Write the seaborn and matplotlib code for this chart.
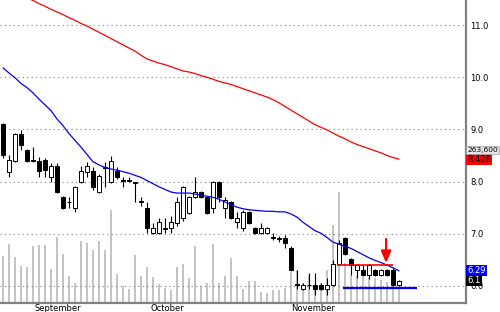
import numpy as np
import matplotlib
matplotlib.use("Agg")
import matplotlib.pyplot as plt
import seaborn as sns

# ---------------- data ----------------
opens = [9.10, 8.18, 8.39, 8.91, 8.61, 8.41, 8.39, 8.41, 8.09, 8.30,
         7.70, 7.61, 7.49, 7.99, 8.18, 8.20, 7.80, 8.27, 7.99, 8.20,
         8.03, 8.03, 8.00, 7.62, 7.49, 7.02, 7.02, 7.11, 7.11, 7.21,
         7.30, 7.40, 7.70, 7.80, 7.70, 7.49, 7.99, 7.49, 7.61, 7.23,
         7.11, 7.42, 7.11, 7.02, 7.02, 6.93, 6.91, 6.92, 6.73, 6.03,
         5.94, 6.02, 6.02, 6.02, 5.94, 6.02, 6.42, 6.92, 6.52, 6.31,
         6.31, 6.21, 6.31, 6.21, 6.31, 6.31, 6.02]
highs = [9.12, 8.51, 8.93, 8.99, 8.63, 8.66, 8.47, 8.45, 8.36, 8.35,
         7.72, 7.70, 7.92, 8.30, 8.38, 8.28, 8.14, 8.38, 8.49, 8.28,
         8.09, 8.09, 8.00, 7.70, 7.61, 7.21, 7.30, 7.30, 7.35, 7.70,
         7.92, 7.72, 8.09, 7.82, 7.72, 8.01, 8.01, 7.70, 7.63, 7.42,
         7.45, 7.44, 7.13, 7.21, 7.13, 7.02, 6.95, 6.98, 6.76, 6.31,
         6.05, 6.25, 6.25, 6.05, 6.15, 6.50, 6.88, 6.94, 6.54, 6.42,
         6.40, 6.42, 6.33, 6.33, 6.33, 6.35, 6.12]
lows = [8.45, 8.09, 8.37, 8.61, 8.37, 8.38, 8.09, 8.09, 7.99, 7.78,
        7.47, 7.50, 7.42, 7.97, 8.09, 7.84, 7.78, 7.90, 7.97, 8.05,
        7.90, 8.00, 7.61, 7.53, 7.02, 7.00, 7.00, 7.02, 7.02, 7.15,
        7.25, 7.38, 7.68, 7.68, 7.38, 7.40, 7.61, 7.30, 7.28, 7.11,
        7.05, 7.19, 7.00, 7.00, 7.00, 6.88, 6.85, 6.73, 6.29, 5.94,
        5.92, 5.94, 5.83, 5.92, 5.83, 6.00, 6.40, 6.59, 6.21, 6.15,
        6.19, 6.13, 6.19, 6.19, 6.19, 6.00, 6.00]
closes = [8.51, 8.41, 8.91, 8.70, 8.39, 8.40, 8.20, 8.22, 8.30, 7.80,
          7.49, 7.60, 7.90, 8.20, 8.30, 7.90, 8.11, 8.26, 8.39, 8.09,
          8.02, 8.02, 7.98, 7.60, 7.11, 7.11, 7.23, 7.10, 7.23, 7.61,
          7.90, 7.70, 7.80, 7.70, 7.40, 7.99, 7.70, 7.65, 7.30, 7.30,
          7.42, 7.21, 7.02, 7.11, 7.11, 6.92, 6.90, 6.82, 6.31, 6.02,
          6.02, 6.01, 5.94, 5.94, 6.02, 6.42, 6.82, 6.61, 6.40, 6.40,
          6.21, 6.40, 6.21, 6.31, 6.21, 6.02, 6.10]
volume_k = [619, 778, 606, 488, 474, 751, 764, 764, 448, 870,
            646, 356, 264, 817, 791, 699, 817, 699, 1226, 382,
            224, 185, 633, 356, 474, 343, 250, 198, 171, 474,
            514, 330, 751, 224, 264, 778, 264, 356, 593, 356,
            185, 290, 290, 145, 132, 171, 171, 198, 409, 435,
            264, 369, 237, 264, 435, 1028, 1463, 527, 369, 369,
            343, 330, 330, 303, 277, 330, 263.6]
ma_fast = [10.18, 10.08, 9.99, 9.88, 9.80, 9.70, 9.58, 9.47, 9.36, 9.20,
           9.07, 8.92, 8.79, 8.66, 8.52, 8.38, 8.32, 8.27, 8.24, 8.22,
           8.19, 8.16, 8.12, 8.08, 8.02, 7.96, 7.90, 7.85, 7.80, 7.78,
           7.78, 7.78, 7.76, 7.74, 7.72, 7.70, 7.66, 7.61, 7.56, 7.51,
           7.48, 7.46, 7.45, 7.44, 7.43, 7.43, 7.42, 7.42, 7.38, 7.32,
           7.22, 7.14, 7.06, 7.01, 6.93, 6.84, 6.80, 6.76, 6.72, 6.66,
           6.60, 6.54, 6.49, 6.45, 6.40, 6.35, 6.29]
ma_slow = [11.74, 11.69, 11.63, 11.58, 11.52, 11.47, 11.41, 11.36, 11.30, 11.25,
           11.20, 11.14, 11.09, 11.03, 10.98, 10.92, 10.86, 10.80, 10.74, 10.68,
           10.62, 10.56, 10.50, 10.42, 10.35, 10.31, 10.27, 10.24, 10.20, 10.16,
           10.12, 10.10, 10.07, 10.03, 10.00, 9.96, 9.92, 9.89, 9.86, 9.82,
           9.78, 9.74, 9.70, 9.66, 9.62, 9.57, 9.51, 9.44, 9.37, 9.30,
           9.23, 9.16, 9.09, 9.04, 8.99, 8.93, 8.87, 8.82, 8.76, 8.71,
           8.67, 8.63, 8.59, 8.55, 8.50, 8.46, 8.43]
month_names = ["September", "October", "November"]
month_start = [5.0, 24.3, 47.7]
price_ticks = [6.0, 7.0, 8.0, 9.0, 10.0, 11.0]
last_volume = "263,600"
slow_label = "8.428"
fast_label = "6.29"
close_label = "6.1"
resistance = 6.40
support = 5.96

# ---------------- figure ----------------
sns.set_style("white")
plt.rcParams['font.family'] = ['DejaVu Sans']

fig = plt.figure(figsize=(5, 3.12), dpi=100)
ax_v = fig.add_axes([0, 9 / 312, 466 / 500, 303 / 312])
ax = ax_v.twinx()

idx = np.arange(len(opens))
o = np.array(opens); c = np.array(closes)
h = np.array(highs); l = np.array(lows)

# volume
ax_v.bar(idx, volume_k, width=0.33, color='#c4c4c4', linewidth=0)
ax_v.set_ylim(0, 3993.5)
ax_v.set_yticks([])
for s in ['left', 'top', 'right']:
    ax_v.spines[s].set_visible(False)
ax_v.spines['bottom'].set_color('#808080')
ax_v.spines['bottom'].set_linewidth(1.6)
ax_v.set_xticks(month_start)
ax_v.set_xticklabels([])
ax_v.tick_params(axis='x', length=4, width=0.8, color='#808080', direction='out')
for name, pos in zip(month_names, month_start):
    ax_v.annotate(name, xy=(pos, 0), xycoords=('data', 'axes fraction'),
                  xytext=(1.2, -0.4), textcoords='offset points', ha='left', va='top',
                  fontsize=6, color='black', annotation_clip=False)

# price axis
ax.set_xlim(-0.5, 77.17)
ax.set_ylim(5.674, 11.479)
ax.set_yticks(price_ticks)
ax.set_yticklabels([f"{t:.1f}" for t in price_ticks])
ax.tick_params(axis='y', length=0, pad=3, labelsize=6, labelcolor='black')
ax.grid(axis='y', color='#808080', linestyle=(0, (1, 3)), linewidth=0.8)
ax.set_axisbelow(True)
for s in ['left', 'top', 'bottom']:
    ax.spines[s].set_visible(False)
ax.spines['right'].set_color('#808080')
ax.spines['right'].set_linewidth(1.6)

# candles
up = c >= o
bottoms = np.minimum(o, c)
heights = np.maximum(np.abs(c - o), 0.008)
ax.vlines(idx, l, h, color='black', linewidth=0.8, zorder=3)
ax.bar(idx, heights, bottom=bottoms, width=0.67,
       color=['white' if u else 'black' for u in up],
       edgecolor='black', linewidth=0.7, zorder=4)

# moving averages
sns.lineplot(x=idx, y=ma_slow, ax=ax, color='#ff0000', linewidth=0.9, zorder=5)
sns.lineplot(x=idx, y=ma_fast, ax=ax, color='#0000ff', linewidth=0.9, zorder=5)
ax.set_xlabel(''); ax.set_ylabel('')

# drawn annotations
ax.hlines(resistance, 55.67, 65.0, color='#ff0000', linewidth=1.2, zorder=6)
ax.hlines(support, 56.67, 69.0, color='#0000ff', linewidth=1.6, zorder=6)
ax.annotate('', xy=(63.85, 6.44), xytext=(63.85, 6.90),
            arrowprops=dict(arrowstyle='-|>,head_length=0.7,head_width=0.3',
                            color='#ff0000', lw=1.6, mutation_scale=10,
                            shrinkA=0, shrinkB=0),
            zorder=7)

# right-side value labels
def tag(text, y, fc, tc, dy=0, ec='none', size=6):
    ax.annotate(text, xy=(1, y), xycoords=('axes fraction', 'data'),
                xytext=(1.0, dy), textcoords='offset points', ha='left', va='center',
                fontsize=size, color=tc, zorder=10, annotation_clip=False,
                bbox=dict(boxstyle='square,pad=0.12', fc=fc, ec=ec, lw=0.5))

tag(slow_label, ma_slow[-1], '#ff0000', 'black')
tag(last_volume, ma_slow[-1], '#e4e4e4', 'black', dy=6.6, ec='#a0a0a0', size=5.4)
tag(fast_label, ma_fast[-1], '#0000ff', 'white')
tag(close_label, closes[-1], 'black', 'white')

fig.savefig("out.png", dpi=100)
